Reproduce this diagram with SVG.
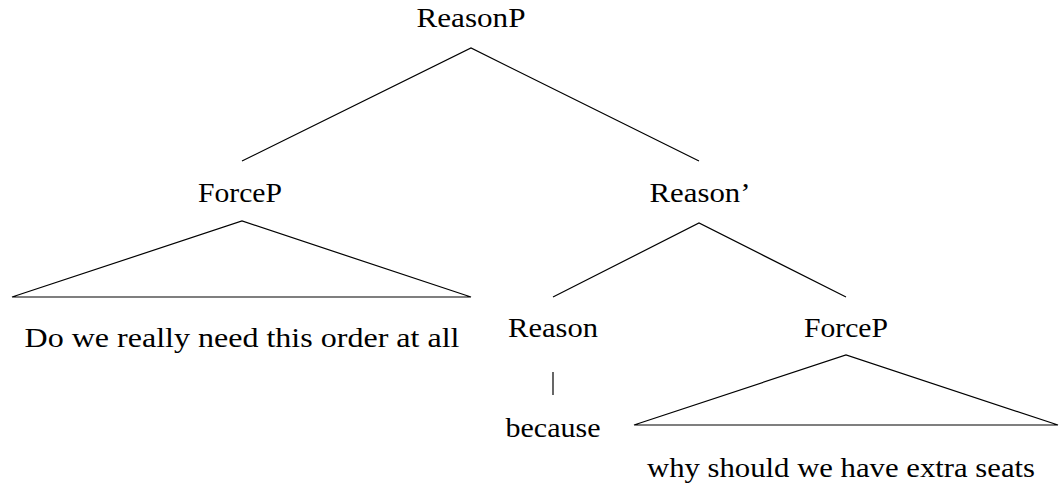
<svg xmlns="http://www.w3.org/2000/svg" width="1059" height="484" viewBox="0 0 1059 484">
<style>
text{font-family:"Liberation Serif","DejaVu Serif",serif;font-size:28px;fill:#000;text-anchor:middle}
.e{stroke:#000;stroke-width:1.2;fill:none}
</style>
<rect width="1059" height="484" fill="#fff"/>
<g id="connectors">
<polyline class="e" points="242,161 471,48 699,161"/>
<polygon class="e" points="12,297 242,221 471,297"/>
<polyline class="e" points="553,297 699,223 846,297"/>
<line class="e" x1="553" y1="372" x2="553" y2="395"/>
<polygon class="e" points="634,425 846,355 1058,425"/>
</g>
<g id="n-reasonp"><text x="471" y="27" textLength="109" lengthAdjust="spacingAndGlyphs">ReasonP</text></g>
<g id="n-forcep1"><text x="240" y="202" textLength="84" lengthAdjust="spacingAndGlyphs">ForceP</text></g>
<g id="n-text1"><text x="242" y="347" textLength="435" lengthAdjust="spacingAndGlyphs">Do we really need this order at all</text></g>
<g id="n-reasonbar"><text x="700" y="202" textLength="101" lengthAdjust="spacingAndGlyphs">Reason’</text></g>
<g id="n-reason"><text x="553" y="337" textLength="90" lengthAdjust="spacingAndGlyphs">Reason</text></g>
<g id="n-because"><text x="553" y="437" textLength="95" lengthAdjust="spacingAndGlyphs">because</text></g>
<g id="n-forcep2"><text x="846" y="337" textLength="84" lengthAdjust="spacingAndGlyphs">ForceP</text></g>
<g id="n-text2"><text x="841" y="477" textLength="388" lengthAdjust="spacingAndGlyphs">why should we have extra seats</text></g>
</svg>
